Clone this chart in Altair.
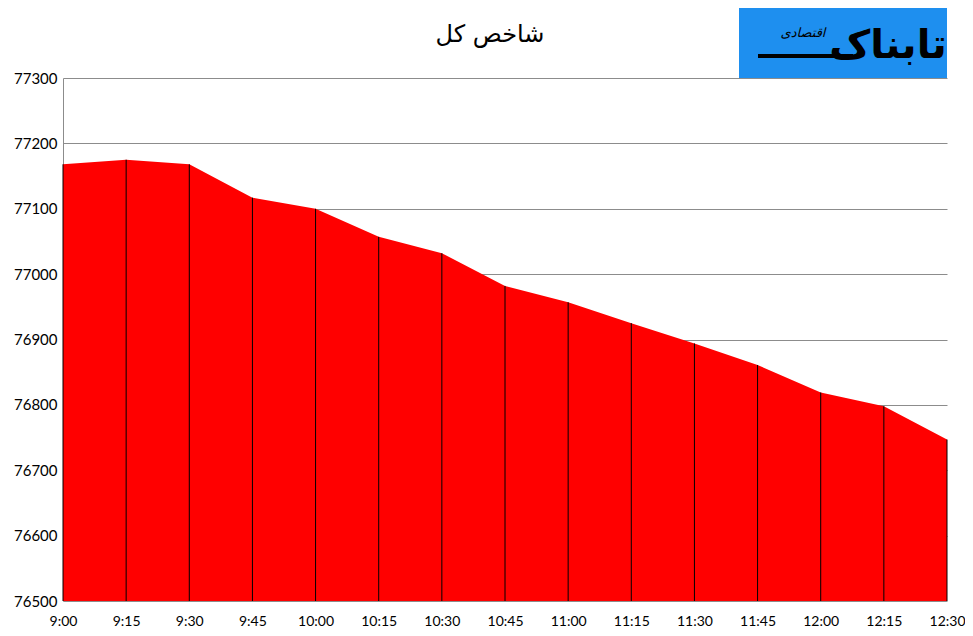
import altair as alt
import pandas as pd

times = ["9:00", "9:15", "9:30", "9:45", "10:00", "10:15", "10:30", "10:45",
         "11:00", "11:15", "11:30", "11:45", "12:00", "12:15", "12:30"]
values = [77168, 77175, 77168, 77117, 77100, 77057, 77032, 76982,
          76957, 76925, 76894, 76861, 76819, 76798, 76747]
y_ticks = [76500, 76600, 76700, 76800, 76900, 77000, 77100, 77200, 77300]
base_value = 76500
title_text = "شاخص کل"
logo_main = "تابناک"
logo_sub = "اقتصادی"

df = pd.DataFrame({"time": times, "value": values, "base": [base_value] * len(times)})

x_enc = alt.X("time:O", sort=times,
              scale=alt.Scale(type="point", padding=0),
              axis=alt.Axis(title=None, labelAngle=0, ticks=False, domain=False,
                            grid=False, labelPadding=13, labelFontSize=14,
                            labelFont="Lato", labelColor="#000000"))
y_scale = alt.Scale(domain=[76500, 77300], zero=False, nice=False)
y_enc = alt.Y("value:Q", scale=y_scale,
              axis=alt.Axis(title=None, values=y_ticks, format="d", ticks=False,
                            domain=True, domainColor="#8c8c8c", grid=True,
                            gridColor="#8c8c8c", gridWidth=1, labelPadding=6,
                            labelFontSize=15, labelFont="Lato", labelColor="#000000"))

base = alt.Chart(df)

area = base.mark_area(color="#ff0000", opacity=1).encode(
    x=x_enc, y=y_enc, y2="base:Q")

rules = base.mark_rule(color="#000000", strokeWidth=1).encode(
    x=alt.X("time:O", sort=times), y="value:Q", y2="base:Q")

title_df = pd.DataFrame({"t": [title_text]})
title = alt.Chart(title_df).mark_text(
    font="DejaVu Sans", fontSize=24, color="#000000", align="center", baseline="middle"
).encode(text="t:N", x=alt.value(427), y=alt.value(-43))

logo_df = pd.DataFrame({"a": [1]})
logo_rect = alt.Chart(logo_df).mark_rect(color="#1e8fef").encode(
    x=alt.value(676), x2=alt.value(884), y=alt.value(-70), y2=alt.value(0))

main_df = pd.DataFrame({"t": [logo_main]})
logo_text = alt.Chart(main_df).mark_text(
    font="DejaVu Sans", fontSize=40, fontWeight="bold", color="#000000",
    align="center", baseline="middle"
).encode(text="t:N", x=alt.value(825), y=alt.value(-32))

sub_df = pd.DataFrame({"t": [logo_sub]})
logo_sub_text = alt.Chart(sub_df).mark_text(
    font="DejaVu Sans", fontSize=13, fontStyle="italic", color="#000000",
    align="center", baseline="middle"
).encode(text="t:N", x=alt.value(740), y=alt.value(-45))

swoosh = alt.Chart(logo_df).mark_rule(color="#000000", strokeWidth=4).encode(
    x=alt.value(695), x2=alt.value(790), y=alt.value(-22))

chart = alt.layer(area, rules, title, logo_rect, logo_text, logo_sub_text, swoosh).properties(
    width=884, height=523,
    autosize=alt.AutoSizeParams(type="none"),
    padding={"left": 55, "top": 70, "right": 18, "bottom": 27},
    background="#ffffff",
).configure_view(strokeWidth=0)

chart.save("out.html", embed_options={"renderer": "svg", "actions": False})
